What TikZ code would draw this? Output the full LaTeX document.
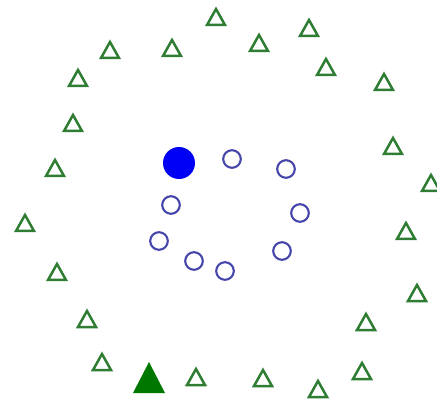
\documentclass[tikz,border=0pt]{standalone}
\usepackage{tikz}
\definecolor{trigreen}{RGB}{46,125,50}
\definecolor{fillgreen}{RGB}{0,120,0}
\definecolor{ringblue}{RGB}{70,70,170}
\definecolor{dotblue}{RGB}{0,0,245}
\tikzset{
  tristyle/.style={draw=trigreen, line width=2.5pt, line join=miter},
  bigtri/.style={fill=fillgreen, draw=none},
  ringstyle/.style={draw=ringblue, line width=2.1pt},
  bigdot/.style={fill=dotblue, draw=none}
}
\newcommand{\mytri}[2]{\draw[tristyle] (#1-9,#2+8) -- (#1+9,#2+8) -- (#1,#2-8) -- cycle;}
\begin{document}
\begin{tikzpicture}[x=1pt,y=-1pt]
\useasboundingbox (0,0) rectangle (437,401);
% outer triangles
\foreach \px/\py in {216/17, 110/50, 172/48, 259/43, 309/28, 326/67, 384/82,
  78/78, 73/123, 55/168, 393/146, 431/183, 25/223, 406/231, 57/272, 417/293,
  87/319, 366/322, 102/362, 362/371, 196/377, 263/378, 318/389}
  {\mytri{\px}{\py}}
% filled triangle
\draw[bigtri] (133,393) -- (165,393) -- (149,362) -- cycle;
% rings
\foreach \px/\py in {232/159, 286/169, 171/205, 300/213, 159/241, 282/251, 194/261, 225/271}
  {\draw[ringstyle] (\px,\py) circle[radius=8.8];}
% filled dot
\fill[bigdot] (179,163) circle[radius=16];
\end{tikzpicture}
\end{document}
